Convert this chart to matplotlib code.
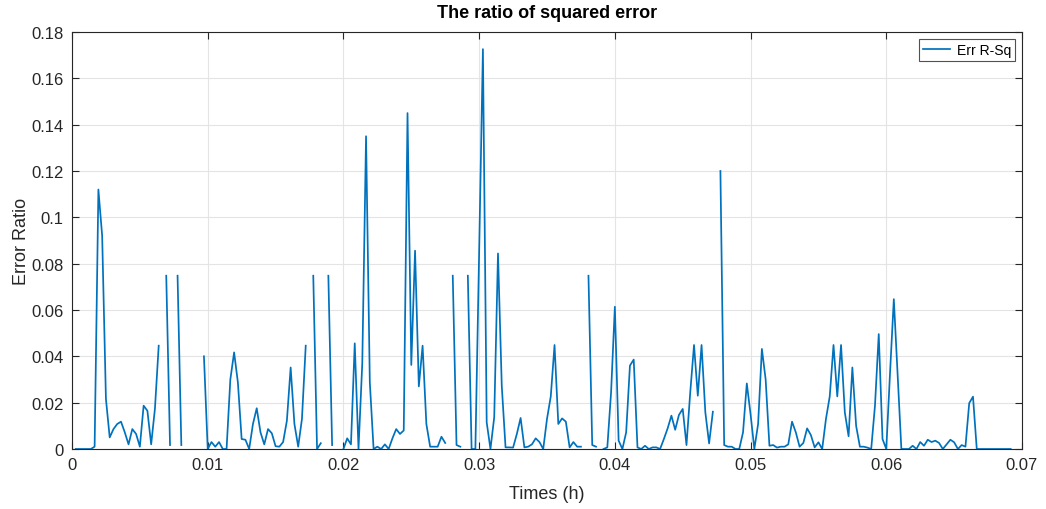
import numpy as np
import matplotlib
matplotlib.use("Agg")
import matplotlib.pyplot as plt
from matplotlib.ticker import FuncFormatter

nan = np.nan

# Sample index in seconds (one sample per second)
seconds = np.arange(1, 250)

# Ratio of squared error per sample (NaN = missing sample)
err_ratio = [
    0, 0, 0, 0, 0, 0.001, 0.112, 0.092, 0.0216, 0.005,
    0.0086, 0.0108, 0.0118, 0.0072, 0.002, 0.0086, 0.0065, 0.001, 0.0187, 0.0165,
    0.002, 0.0174, 0.0446, nan, 0.0748, 0.0017, nan, 0.0748, 0.0017, nan,
    nan, nan, nan, nan, 0.040, 0, 0.003, 0.001, 0.003, 0,
    0, 0.030, 0.0417, 0.0288, 0.0043, 0.004, 0, 0.0108, 0.0176, 0.0072,
    0.002, 0.0086, 0.0068, 0.0012, 0.001, 0.003, 0.0122, 0.0352, 0.0108, 0.001,
    0.013, 0.0446, nan, 0.0748, 0, 0.0025, nan, 0.0748, 0.0017, nan,
    nan, 0, 0.0046, 0.002, 0.0456, 0, 0.037, 0.135, 0.0288, 0,
    0.001, 0, 0.002, 0, 0.0046, 0.0086, 0.0065, 0.008, 0.145, 0.0363,
    0.0856, 0.027, 0.0446, 0.0108, 0.001, 0.001, 0.001, 0.0053, 0.0026, nan,
    0.0748, 0.0017, 0.001, nan, 0.0748, 0, 0, 0.085, 0.1726, 0.0115,
    0, 0.0137, 0.0844, 0.0273, 0.0007, 0.0007, 0.0006, 0.0065, 0.0134, 0.0007,
    0.001, 0.002, 0.0046, 0.003, 0, 0.013, 0.0227, 0.0449, 0.0108, 0.0132,
    0.0118, 0.0007, 0.003, 0.001, 0.001, nan, 0.0748, 0.0017, 0.001, nan,
    0, 0.0007, 0.0245, 0.0614, 0.0036, 0, 0.0072, 0.036, 0.0386, 0.0007,
    0, 0.0014, 0, 0.0007, 0.0007, 0, 0.0043, 0.0089, 0.0144, 0.0083,
    0.0147, 0.0173, 0.0017, 0.0245, 0.0449, 0.023, 0.0449, 0.0158, 0.0024, 0.0161,
    nan, 0.120, 0.0017, 0.001, 0.001, 0, 0, 0.0072, 0.0283, 0.015,
    0, 0.0108, 0.0432, 0.030, 0.0014, 0.0017, 0.0006, 0.001, 0.001, 0.002,
    0.0118, 0.0072, 0.001, 0.0026, 0.0089, 0.006, 0.0007, 0.0029, 0, 0.013,
    0.0227, 0.0449, 0.0227, 0.0449, 0.0158, 0.0055, 0.0352, 0.010, 0.001, 0.001,
    0.0006, 0, 0.0187, 0.0496, 0.0043, 0, 0.033, 0.0647, 0.032, 0,
    0, 0, 0.0014, 0, 0.003, 0.0014, 0.004, 0.003, 0.0036, 0.0026,
    0, 0.002, 0.004, 0.0029, 0, 0.0017, 0.001, 0.0198, 0.0226, 0,
    0, 0, 0, 0, 0, 0, 0, 0, 0,
]

x_ticks = [0, 0.01, 0.02, 0.03, 0.04, 0.05, 0.06, 0.07]
y_ticks = [0, 0.02, 0.04, 0.06, 0.08, 0.1, 0.12, 0.14, 0.16, 0.18]

plt.rcParams["font.family"] = ["Liberation Sans", "DejaVu Sans"]

times_h = seconds / 3600.0

fig = plt.figure(figsize=(10.46, 5.10), dpi=100)
ax = fig.add_axes([72 / 1046, 1 - 450 / 510, 950 / 1046, 417 / 510])

ax.plot(times_h, err_ratio, color="#0072BD", linewidth=1.25, label="Err R-Sq")

ax.set_xlim(0, 0.07)
ax.set_ylim(0, 0.18)
ax.set_xticks(x_ticks)
ax.set_yticks(y_ticks)
fmt = FuncFormatter(lambda v, p: "%g" % round(v, 4))
ax.xaxis.set_major_formatter(fmt)
ax.yaxis.set_major_formatter(fmt)

ax.grid(True, color="#e4e4e4", linewidth=0.8)
ax.set_axisbelow(True)
for s in ax.spines.values():
    s.set_color("#262626")
    s.set_linewidth(0.8)
ax.tick_params(direction="in", length=5, width=0.8, top=True, right=True,
               labelsize=12, colors="#262626", pad=6)

ax.set_title("The ratio of squared error", fontsize=13, fontweight="bold", pad=11)
ax.set_xlabel("Times (h)", fontsize=13, color="#262626", labelpad=9)
ax.set_ylabel("Error Ratio", fontsize=13, color="#262626", labelpad=1)

leg = ax.legend(loc="upper right", fontsize=10, frameon=True, fancybox=False,
                handlelength=1.9, borderpad=0.3, handletextpad=0.5,
                borderaxespad=0.5)
leg.get_frame().set_edgecolor("#262626")
leg.get_frame().set_linewidth(0.8)

fig.savefig("out.png", dpi=100)
